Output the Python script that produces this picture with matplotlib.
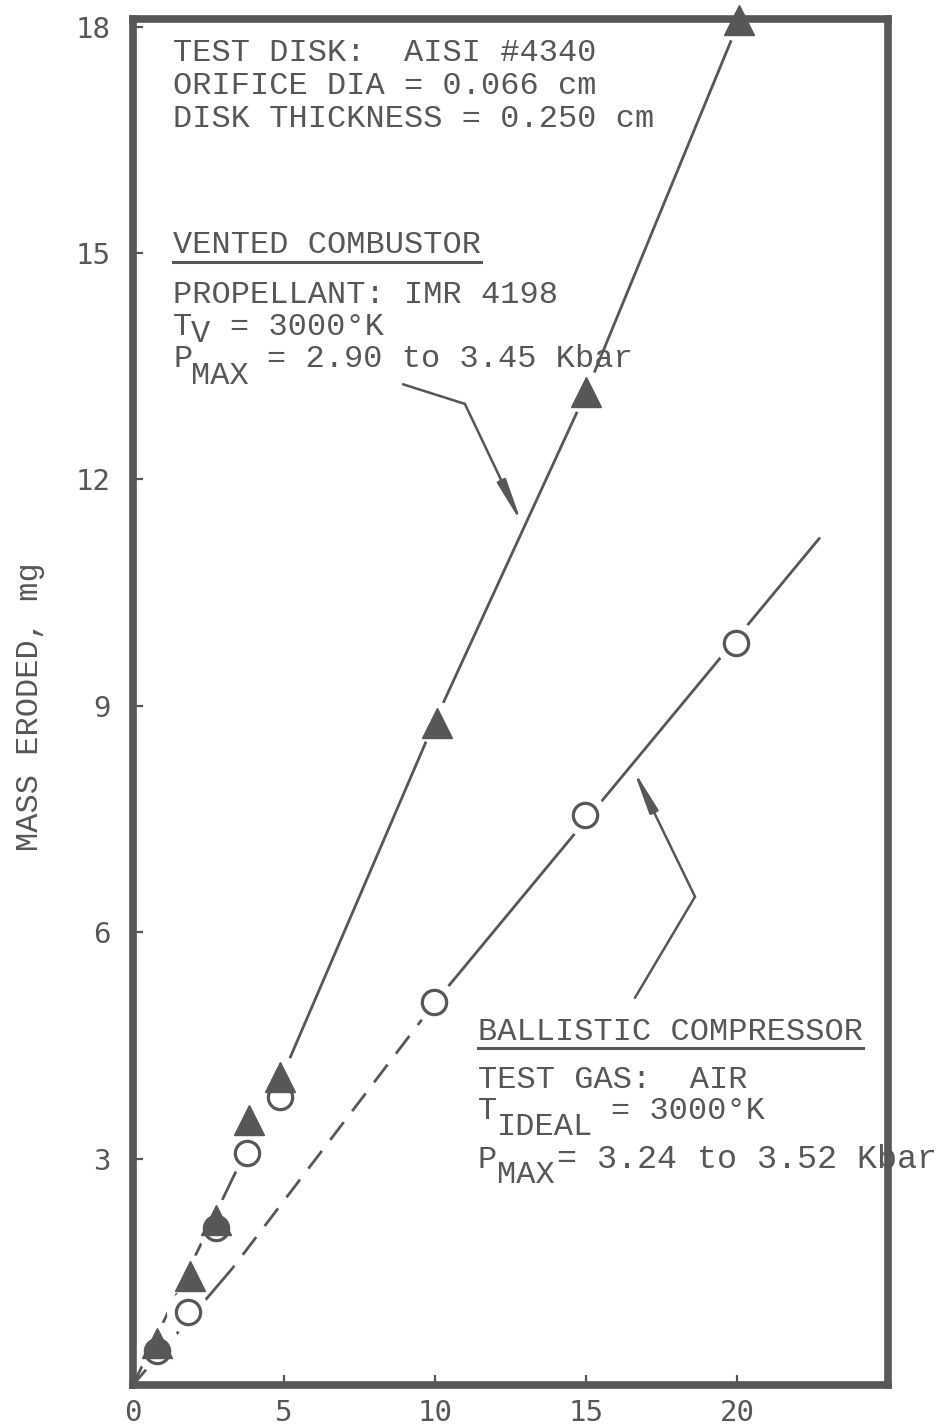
import matplotlib
matplotlib.use('Agg')
import matplotlib.pyplot as plt
from matplotlib.lines import Line2D

# ---------------- data ----------------
vent_x = [0.8, 1.9, 2.75, 3.85, 4.87, 10.07, 15.0, 20.05]
vent_y = [0.55, 1.45, 2.19, 3.51, 4.08, 8.77, 13.16, 18.09]
ball_x = [0.8, 1.82, 2.75, 3.77, 4.87, 9.97, 14.97, 19.97]
ball_y = [0.45, 0.97, 2.08, 3.08, 3.82, 5.07, 7.55, 9.83]

vent_fit_x = [0, 5, 10, 15, 20.1]
vent_fit_y = [0, 4.15, 8.8, 13.15, 18.1]
ball_lo_x, ball_lo_y = [0, 3.3], [0, 1.55]
ball_dash_x, ball_dash_y = [3.3, 10.0], [1.55, 5.07]
ball_hi_x, ball_hi_y = [10.0, 22.75], [5.07, 11.23]

# leader (arrow) polylines, data coordinates
vent_leader_x = [8.94, 10.99, 12.88]
vent_leader_y = [13.26, 13.0, 11.41]
ball_leader_x = [16.62, 18.61, 16.56]
ball_leader_y = [5.13, 6.47, 8.16]

xticks = [0, 5, 10, 15, 20]
yticks = [3, 6, 9, 12, 15, 18]
xlim = (0, 25)
ylim = (0, 18.1)
ylabel = "MASS ERODED, mg"

# ---------------- style ----------------
W, H = 939, 1427
INK = '#575757'
MONO = 'Liberation Mono'
FS = 23

fig = plt.figure(figsize=(W / 100, H / 100), dpi=100)
fig.patch.set_facecolor('white')
ax = fig.add_axes([133 / W, 1 - 1385 / H, (888 - 133) / W, (1385 - 19) / H])
ax.set_xlim(*xlim)
ax.set_ylim(*ylim)

for s in ax.spines.values():
    s.set_linewidth(5.5)
    s.set_color(INK)
    s.set_zorder(2.5)

ax.set_xticks(xticks)
ax.set_yticks(yticks)
ax.set_xticklabels([str(t) for t in xticks])
ax.set_yticklabels([str(t) for t in yticks])
ax.tick_params(direction='in', length=7, width=1.6, color=INK,
               labelcolor=INK, labelsize=21)
ax.tick_params(axis='x', pad=10)
ax.tick_params(axis='y', pad=16)
for lab in ax.get_xticklabels() + ax.get_yticklabels():
    lab.set_family('DejaVu Sans Mono')

ax.set_ylabel(ylabel, family=MONO, fontsize=23, color=INK)
ax.yaxis.label.set_verticalalignment('center')
ax.yaxis.set_label_coords((30 - 133) / 755, (1385 - 707) / 1366)

# fitted lines
LW = 2.0
ax.plot(vent_fit_x, vent_fit_y, color=INK, lw=LW, zorder=1, solid_capstyle='butt')
ax.plot(ball_lo_x, ball_lo_y, color=INK, lw=LW, zorder=1, solid_capstyle='butt')
ax.plot(ball_dash_x, ball_dash_y, color=INK, lw=LW, zorder=1,
        linestyle=(7, (8, 5)), dash_capstyle='butt')
ax.plot(ball_hi_x, ball_hi_y, color=INK, lw=LW, zorder=1, solid_capstyle='butt')

# white halos (gaps of the lines round the points)
ax.plot(ball_x, ball_y, 'o', ms=30, color='white', mec='white', zorder=1.5)
ax.plot(vent_x, vent_y, 'o', ms=30, color='white', mec='white', zorder=1.5)

# points
ax.plot(ball_x, ball_y, 'o', ms=17.5, mfc='white', mec=INK, mew=2.3, zorder=4, clip_on=False)
ax.plot(vent_x, vent_y, '^', ms=21, mfc=INK, mec=INK, mew=1, zorder=5, clip_on=False)

# leaders with arrowheads
for lx, ly in [(vent_leader_x, vent_leader_y), (ball_leader_x, ball_leader_y)]:
    ax.plot(lx[:2], ly[:2], color=INK, lw=1.8, zorder=2, solid_capstyle='round')
    ax.annotate('', xy=(lx[2], ly[2]), xytext=(lx[1], ly[1]),
                arrowprops=dict(arrowstyle='-|>,head_length=2.6,head_width=0.28',
                                mutation_scale=10, lw=1.8, color=INK,
                                shrinkA=0, shrinkB=0), zorder=2)

# ---------------- annotation texts ----------------
def put(px, py, s, fs=FS):
    fig.text(px / W, 1 - py / H, s, ha='left', va='baseline', fontsize=fs,
             family=MONO, color=INK, zorder=6)

def underline(x0, x1, py):
    fig.add_artist(Line2D([x0 / W, x1 / W], [1 - py / H] * 2,
                          transform=fig.transFigure, lw=2.2, color=INK))

put(173, 61, "TEST DISK:  AISI #4340")
put(173, 94, "ORIFICE DIA = 0.066 cm")
put(173, 127, "DISK THICKNESS = 0.250 cm")

put(173, 253, "VENTED COMBUSTOR")
underline(173, 481, 262)
put(173, 303, "PROPELLANT: IMR 4198")
put(173, 335, "T")
put(191, 342, "V")
put(230, 335, "= 3000°K")
put(173, 367, "P")
put(191, 384, "MAX")
put(267, 367, "= 2.90 to 3.45 Kbar")

put(478, 1040, "BALLISTIC COMPRESSOR")
underline(478, 863, 1048)
put(478, 1088, "TEST GAS:  AIR")
put(478, 1119, "T")
put(497, 1135, "IDEAL")
put(611, 1119, "= 3000°K")
put(478, 1168, "P")
put(497, 1183, "MAX")
put(557, 1168, "= 3.24 to 3.52 Kbar", fs=24)

fig.savefig('out.png', dpi=100, facecolor='white')
